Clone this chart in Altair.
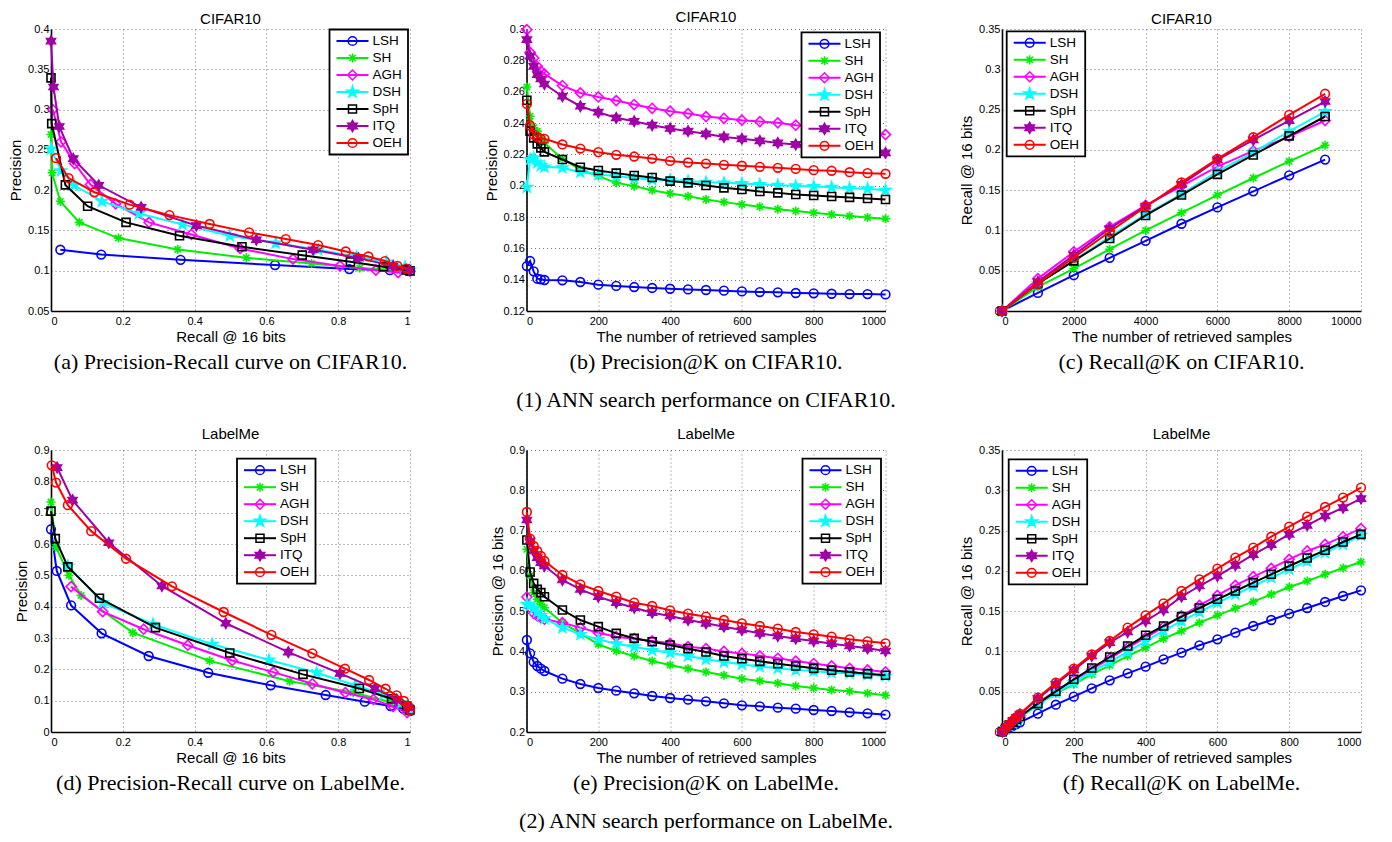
import altair as alt
import pandas as pd

METHODS = ["LSH", "SH", "AGH", "DSH", "SpH", "ITQ", "OEH"]
COLORS = ["#0000FF", "#00EE00", "#FF00FF", "#00FFFF", "#000000", "#A000A8", "#FF0000"]

ASTERISK = "M-1,0H1M0,-1V1M-0.7071,-0.7071L0.7071,0.7071M-0.7071,0.7071L0.7071,-0.7071"
PENTAGRAM = ("M0,-1L0.2245,-0.309L0.9511,-0.309L0.3633,0.118L0.5878,0.809L0,0.382"
             "L-0.5878,0.809L-0.3633,0.118L-0.9511,-0.309L-0.2245,-0.309Z")
HEXAGRAM = ("M0,-1L0.2887,-0.5L0.866,-0.5L0.5774,0L0.866,0.5L0.2887,0.5L0,1"
            "L-0.2887,0.5L-0.866,0.5L-0.5774,0L-0.866,-0.5L-0.2887,-0.5Z")
SHAPES = ["circle", ASTERISK, "diamond", PENTAGRAM, "square", HEXAGRAM, "circle"]
SIZES = [76, 81, 100, 144, 64, 121, 76]
FILLED = [False, False, False, True, False, True, False]

# ---------------- (a) CIFAR10 precision-recall ----------------
A_RECALL = {
    "LSH": [0.026, 0.14, 0.361, 0.624, 0.831, 0.944, 0.995],
    "SH": [0.0, 0.003, 0.026, 0.079, 0.188, 0.353, 0.544, 0.726, 0.86, 0.972, 0.998],
    "AGH": [0.005, 0.028, 0.066, 0.11, 0.18, 0.273, 0.391, 0.527, 0.674, 0.805, 0.905, 0.967, 1.0],
    "DSH": [0.0, 0.028, 0.065, 0.142, 0.245, 0.366, 0.498, 0.626, 0.744, 0.851, 0.935, 0.986, 1.0],
    "SpH": [0.0, 0.002, 0.04, 0.102, 0.209, 0.358, 0.532, 0.70, 0.834, 0.926, 0.99, 1.0],
    "ITQ": [0.0, 0.007, 0.023, 0.062, 0.133, 0.251, 0.405, 0.572, 0.730, 0.856, 0.953, 0.998],
    "OEH": [0.014, 0.049, 0.121, 0.219, 0.33, 0.442, 0.552, 0.654, 0.744, 0.821, 0.884, 0.93, 0.965, 0.99],
}
A_PREC = {
    "LSH": [0.126, 0.120, 0.1135, 0.107, 0.102, 0.1007, 0.0998],
    "SH": [0.269, 0.2215, 0.186, 0.160, 0.1405, 0.1264, 0.116, 0.109, 0.1035, 0.1007, 0.100],
    "AGH": [0.30, 0.26, 0.233, 0.207, 0.183, 0.160, 0.145, 0.1276, 0.1144, 0.106, 0.1007, 0.0977, 0.0994],
    "DSH": [0.251, 0.224, 0.206, 0.186, 0.171, 0.1575, 0.1434, 0.1343, 0.126, 0.1173, 0.111, 0.105, 0.1007],
    "SpH": [0.3394, 0.2825, 0.2065, 0.180, 0.160, 0.1434, 0.1297, 0.1193, 0.111, 0.105, 0.101, 0.0998],
    "ITQ": [0.385, 0.328, 0.279, 0.239, 0.206, 0.1787, 0.156, 0.1384, 0.126, 0.1156, 0.106, 0.1007],
    "OEH": [0.2397, 0.215, 0.1974, 0.182, 0.169, 0.158, 0.1476, 0.1393, 0.1318, 0.1239, 0.1177, 0.112, 0.106, 0.1027],
}

# ---------------- (b) CIFAR10 precision@K ----------------
K_PK = [1, 10, 20, 30, 40, 50, 100, 150, 200, 250, 300, 350, 400, 450, 500,
        550, 600, 650, 700, 750, 800, 850, 900, 950, 1000]
B_PREC = {
    "LSH": [0.1487, 0.1519, 0.1453, 0.1406, 0.1402, 0.1398, 0.1396, 0.1385, 0.1368, 0.136, 0.1353, 0.1347, 0.1342,
            0.1338, 0.1334, 0.133, 0.1325, 0.1321, 0.1319, 0.1315, 0.1313, 0.131, 0.1308, 0.1308, 0.1306],
    "SH": [0.263, 0.2443, 0.2369, 0.2348, 0.231, 0.2273, 0.2171, 0.2103, 0.2061, 0.2018, 0.1997, 0.1971, 0.195,
           0.1933, 0.1912, 0.1895, 0.188, 0.1865, 0.185, 0.1838, 0.1827, 0.1816, 0.1806, 0.1797, 0.1789],
    "AGH": [0.2996, 0.2851, 0.2815, 0.2762, 0.273, 0.2713, 0.2639, 0.2592, 0.2566, 0.2543, 0.2518, 0.2494, 0.2475,
            0.246, 0.2441, 0.243, 0.2418, 0.2409, 0.2401, 0.2386, 0.2375, 0.2365, 0.2355, 0.2345, 0.2326],
    "DSH": [0.199, 0.2167, 0.2178, 0.2146, 0.2129, 0.212, 0.2114, 0.2086, 0.2071, 0.2061, 0.2048, 0.2039, 0.2035,
            0.2029, 0.2022, 0.2018, 0.2014, 0.2008, 0.2003, 0.1999, 0.1995, 0.199, 0.1984, 0.198, 0.1971],
    "SpH": [0.2545, 0.2348, 0.2305, 0.2267, 0.2241, 0.2216, 0.2167, 0.2118, 0.2097, 0.208, 0.2065, 0.2052, 0.2029,
            0.2018, 0.2001, 0.1986, 0.1976, 0.1963, 0.1954, 0.1944, 0.1937, 0.1931, 0.1925, 0.1918, 0.1912],
    "ITQ": [0.2932, 0.2826, 0.2762, 0.2709, 0.2681, 0.2649, 0.2571, 0.2507, 0.2469, 0.2433, 0.2411, 0.2386, 0.2365,
            0.2348, 0.2331, 0.2311, 0.2299, 0.2286, 0.2273, 0.2263, 0.2252, 0.2245, 0.2237, 0.223, 0.2209],
    "OEH": [0.2522, 0.2384, 0.2326, 0.2311, 0.2299, 0.2299, 0.2263, 0.2237, 0.2214, 0.2197, 0.2186, 0.2173, 0.2158,
            0.2148, 0.2141, 0.2133, 0.2127, 0.212, 0.2114, 0.2107, 0.2099, 0.2095, 0.2086, 0.208, 0.2076],
}

# ---------------- (c) CIFAR10 recall@K ----------------
K_RC = [0, 1000, 2000, 3000, 4000, 5000, 6000, 7000, 8000, 9000]
C_REC = {
    "LSH": [0, 0.0224, 0.0444, 0.066, 0.0871, 0.1083, 0.1286, 0.1485, 0.1684, 0.1879],
    "SH": [0, 0.0299, 0.0527, 0.0767, 0.1, 0.122, 0.1439, 0.1651, 0.1858, 0.2057],
    "AGH": [0, 0.0402, 0.0734, 0.1045, 0.1311, 0.1551, 0.1792, 0.1987, 0.2165, 0.2364],
    "DSH": [0, 0.034, 0.063, 0.092, 0.1199, 0.1452, 0.173, 0.1966, 0.2231, 0.2476],
    "SpH": [0, 0.034, 0.0622, 0.09, 0.1186, 0.1439, 0.1696, 0.1937, 0.2173, 0.2414],
    "ITQ": [0, 0.0361, 0.0693, 0.1024, 0.1302, 0.1572, 0.1875, 0.2124, 0.2364, 0.26],
    "OEH": [0, 0.034, 0.0664, 0.0983, 0.1294, 0.1597, 0.1887, 0.2157, 0.2435, 0.2696],
}

# ---------------- (d) LabelMe precision-recall ----------------
D_RECALL = {
    "LSH": [0.0, 0.016, 0.056, 0.141, 0.272, 0.438, 0.612, 0.765, 0.874, 0.946, 0.981, 1.0],
    "SH": [0.0, 0.014, 0.05, 0.084, 0.228, 0.442, 0.665, 0.842, 0.944, 0.995],
    "AGH": [0.056, 0.144, 0.258, 0.381, 0.505, 0.619, 0.728, 0.82, 0.898, 0.953, 0.992],
    "DSH": [0.047, 0.144, 0.284, 0.449, 0.607, 0.74, 0.847, 0.926, 0.977, 1.0],
    "SpH": [0.0, 0.012, 0.047, 0.135, 0.291, 0.498, 0.702, 0.859, 0.949, 0.991, 1.0],
    "ITQ": [0.017, 0.06, 0.161, 0.309, 0.487, 0.661, 0.805, 0.902, 0.963, 0.995],
    "OEH": [0.002, 0.014, 0.047, 0.112, 0.209, 0.337, 0.481, 0.614, 0.728, 0.819, 0.886, 0.932, 0.963, 0.983,
            0.995, 1.0],
}
D_PREC = {
    "LSH": [0.647, 0.514, 0.404, 0.315, 0.2426, 0.189, 0.149, 0.118, 0.0968, 0.083, 0.0745, 0.067],
    "SH": [0.734, 0.59, 0.50, 0.436, 0.317, 0.227, 0.162, 0.126, 0.096, 0.072],
    "AGH": [0.464, 0.384, 0.328, 0.277, 0.228, 0.191, 0.154, 0.1255, 0.104, 0.081, 0.062],
    "DSH": [0.53, 0.413, 0.344, 0.28, 0.23, 0.189, 0.149, 0.12, 0.094, 0.07],
    "SpH": [0.705, 0.617, 0.527, 0.427, 0.333, 0.252, 0.184, 0.139, 0.106, 0.083, 0.07],
    "ITQ": [0.844, 0.74, 0.604, 0.466, 0.347, 0.255, 0.187, 0.139, 0.104, 0.078],
    "OEH": [0.851, 0.796, 0.724, 0.641, 0.553, 0.465, 0.383, 0.31, 0.251, 0.202, 0.166, 0.138, 0.117, 0.099,
            0.083, 0.07],
}

# ---------------- (e) LabelMe precision@K ----------------
E_PREC = {
    "LSH": [0.4284, 0.3953, 0.3738, 0.3638, 0.3572, 0.3514, 0.3324, 0.3192, 0.3092, 0.3026, 0.296, 0.2894, 0.2844,
            0.2803, 0.2761, 0.2712, 0.2662, 0.2637, 0.2604, 0.2579, 0.2546, 0.2521, 0.2488, 0.2463, 0.243],
    "SH": [0.6534, 0.5872, 0.5459, 0.5293, 0.5169, 0.5086, 0.4714, 0.4449, 0.4176, 0.4011, 0.3887, 0.3762, 0.3663,
           0.3572, 0.349, 0.3407, 0.3324, 0.3266, 0.3208, 0.3142, 0.3092, 0.3043, 0.301, 0.296, 0.291],
    "AGH": [0.5351, 0.5086, 0.4946, 0.488, 0.4838, 0.48, 0.4714, 0.459, 0.4466, 0.4367, 0.4317, 0.4259, 0.4201,
            0.4118, 0.407, 0.400, 0.395, 0.389, 0.383, 0.376, 0.370, 0.364, 0.358, 0.354, 0.349],
    "DSH": [0.5169, 0.5144, 0.5062, 0.4979, 0.4896, 0.4813, 0.459, 0.4424, 0.43, 0.4193, 0.4118, 0.4027, 0.3969,
            0.3887, 0.3804, 0.3738, 0.368, 0.3622, 0.358, 0.3539, 0.3514, 0.3473, 0.3456, 0.3423, 0.339],
    "SpH": [0.6766, 0.5972, 0.569, 0.5541, 0.5459, 0.5359, 0.5028, 0.478, 0.4615, 0.4449, 0.4325, 0.4242, 0.416,
            0.4069, 0.3986, 0.3887, 0.382, 0.3754, 0.3696, 0.3638, 0.358, 0.3531, 0.349, 0.3448, 0.3407],
    "ITQ": [0.7262, 0.6741, 0.6493, 0.6327, 0.6203, 0.6121, 0.5773, 0.5541, 0.5359, 0.521, 0.5086, 0.4962, 0.488,
            0.478, 0.4697, 0.4615, 0.4532, 0.4449, 0.4383, 0.4317, 0.4259, 0.4193, 0.4135, 0.4077, 0.4011],
    "OEH": [0.7461, 0.6799, 0.6617, 0.6493, 0.6369, 0.6245, 0.5897, 0.5666, 0.55, 0.5359, 0.521, 0.5128, 0.502,
            0.4937, 0.4863, 0.478, 0.4697, 0.4631, 0.4565, 0.4482, 0.4424, 0.4367, 0.4301, 0.4251, 0.4201],
}

# ---------------- (f) LabelMe recall@K ----------------
F_REC = {
    "LSH": [0.0003, 0.0027, 0.0051, 0.0075, 0.0098, 0.012, 0.0228, 0.0339, 0.0439, 0.0542, 0.0641, 0.0728, 0.0811,
            0.0902, 0.0985, 0.1076, 0.115, 0.1233, 0.1316, 0.139, 0.1469, 0.1539, 0.1614, 0.1688, 0.1758],
    "SH": [0.0004, 0.0042, 0.0078, 0.0113, 0.0147, 0.018, 0.0343, 0.048, 0.0592, 0.0716, 0.0827, 0.0943, 0.1047,
           0.1158, 0.1254, 0.1357, 0.1448, 0.1535, 0.1618, 0.1709, 0.18, 0.1874, 0.1957, 0.2036, 0.211],
    "AGH": [0.0004, 0.0038, 0.0074, 0.0109, 0.0144, 0.018, 0.0364, 0.0509, 0.0645, 0.0778, 0.091, 0.1047, 0.1171,
            0.1303, 0.144, 0.1572, 0.1696, 0.182, 0.1928, 0.2031, 0.2143, 0.2247, 0.2329, 0.2424, 0.2524],
    "DSH": [0.0004, 0.0039, 0.0076, 0.0112, 0.0146, 0.018, 0.0343, 0.0488, 0.0612, 0.0745, 0.0869, 0.0993, 0.1129,
            0.1254, 0.1378, 0.1489, 0.1605, 0.1709, 0.1812, 0.1916, 0.2019, 0.2122, 0.2226, 0.2329, 0.2441],
    "SpH": [0.0005, 0.0045, 0.0085, 0.0123, 0.0159, 0.0193, 0.0352, 0.0505, 0.0654, 0.0794, 0.0931, 0.1067, 0.12,
            0.1316, 0.1432, 0.1539, 0.1647, 0.175, 0.1854, 0.1957, 0.206, 0.216, 0.2255, 0.2358, 0.2453],
    "ITQ": [0.0005, 0.0049, 0.0094, 0.0137, 0.0179, 0.0221, 0.0414, 0.0592, 0.077, 0.0943, 0.1109, 0.1241, 0.1378,
            0.1514, 0.168, 0.1812, 0.1936, 0.2069, 0.2201, 0.2325, 0.2453, 0.2565, 0.2681, 0.2784, 0.2896],
    "OEH": [0.0005, 0.0049, 0.0095, 0.0141, 0.0184, 0.0225, 0.0426, 0.0612, 0.0786, 0.0964, 0.113, 0.1295, 0.1448,
            0.1597, 0.175, 0.1895, 0.2027, 0.2164, 0.2288, 0.2424, 0.2549, 0.2673, 0.2793, 0.2909, 0.3033],
}

W, H = 359, 282
SANS = "Liberation Sans"
SERIF = "Liberation Serif"


def long_df(xs, ys):
    rows = []
    for m in METHODS:
        xv = xs[m] if isinstance(xs, dict) else xs
        for xx, yy in zip(xv, ys[m]):
            rows.append({"method": m, "x": xx, "y": yy})
    return pd.DataFrame(rows)


def panel(df, title, title_offset, xtitle, ytitle, xdom, ydom, xticks, yticks, xfmt, box, caption,
          group_caption=None):
    x = alt.X("x:Q", scale=alt.Scale(domain=xdom, nice=False, zero=False),
              axis=alt.Axis(values=xticks, format=xfmt, title=xtitle))
    y = alt.Y("y:Q", scale=alt.Scale(domain=ydom, nice=False, zero=False),
              axis=alt.Axis(values=yticks, format="~g", title=ytitle))
    base = alt.Chart(df)
    layers = []
    for m, c, s, sz, f in zip(METHODS, COLORS, SHAPES, SIZES, FILLED):
        sub = base.transform_filter(alt.datum.method == m)
        layers.append(sub.mark_line(color=c, strokeWidth=2).encode(x=x, y=y))
        if f:
            pm = sub.mark_point(shape=s, size=sz, filled=True, color=c, stroke=c, strokeWidth=1.2, opacity=1)
        else:
            pm = sub.mark_point(shape=s, size=sz, filled=False, color=c, strokeWidth=1.6, opacity=1)
        layers.append(pm.encode(x=x, y=y))

    # legend box (MATLAB style, inside plot)
    bx, by = box
    one = pd.DataFrame({"k": [0]})
    layers.append(alt.Chart(one).mark_rect(fill="white", stroke="black", strokeWidth=1.8).encode(
        x=alt.value(bx), x2=alt.value(bx + 78.5), y=alt.value(by), y2=alt.value(by + 125)))
    leg = pd.DataFrame({
        "method": METHODS,
        "ly": [by + 11.5 + 17 * i for i in range(len(METHODS))],
        "color": COLORS,
        "shape": SHAPES,
        "size": SIZES,
        "fill": [c if f else "transparent" for c, f in zip(COLORS, FILLED)],
    })
    lg = alt.Chart(leg)
    layers.append(lg.mark_rule(strokeWidth=2).encode(
        x=alt.value(bx + 7), x2=alt.value(bx + 39), y=alt.Y("ly:Q", scale=None, axis=None),
        stroke=alt.Stroke("color:N", scale=None)))
    layers.append(lg.mark_point(opacity=1, strokeWidth=1.5, filled=False).encode(
        x=alt.value(bx + 23), y=alt.Y("ly:Q", scale=None, axis=None),
        shape=alt.Shape("shape:N", scale=None), stroke=alt.Stroke("color:N", scale=None),
        fill=alt.Fill("fill:N", scale=None), size=alt.Size("size:Q", scale=None)))
    layers.append(lg.mark_text(align="left", baseline="middle", font=SANS, fontSize=13.5, color="black").encode(
        x=alt.value(bx + 43), y=alt.Y("ly:Q", scale=None, axis=None), text="method:N"))

    layers.append(alt.Chart(one).mark_text(font=SERIF, fontSize=22, align="center", baseline="middle",
                                           color="black").encode(
        x=alt.value(W / 2), y=alt.value(H + 51), text=alt.value(caption)))
    if group_caption:
        layers.append(alt.Chart(one).mark_text(font=SERIF, fontSize=22, align="center", baseline="middle",
                                               color="black").encode(
            x=alt.value(W / 2), y=alt.value(H + 89), text=alt.value(group_caption)))

    return alt.layer(*layers).properties(
        width=W, height=H,
        title=alt.TitleParams(title, font=SANS, fontSize=15, fontWeight="normal", color="black",
                              offset=title_offset))


XT1 = [0, 0.2, 0.4, 0.6, 0.8, 1]
XTK = [0, 200, 400, 600, 800, 1000]
NRS = "The number of retrieved samples"
T1, T2 = -4, 2

pa = panel(long_df(A_RECALL, A_PREC), "CIFAR10", T1, "Recall @ 16 bits", "Precision", [0, 1], [0.05, 0.4], XT1,
           [0.05, 0.1, 0.15, 0.2, 0.25, 0.3, 0.35, 0.4], "~g", (278.5, 0.5),
           "(a) Precision-Recall curve on CIFAR10.")
pb = panel(long_df(K_PK, B_PREC), "CIFAR10", T1, NRS, "Precision", [0, 1000], [0.12, 0.3], XTK,
           [0.12, 0.14, 0.16, 0.18, 0.2, 0.22, 0.24, 0.26, 0.28, 0.3], "d", (275, 3.3),
           "(b) Precision@K on CIFAR10.", "(1) ANN search performance on CIFAR10.")
pc = panel(long_df(K_RC, C_REC), "CIFAR10", T1, NRS, "Recall @ 16 bits", [0, 10000], [0, 0.35],
           [0, 2000, 4000, 6000, 8000, 10000], [0, 0.05, 0.1, 0.15, 0.2, 0.25, 0.3, 0.35], "d", (4.7, 2.3),
           "(c) Recall@K on CIFAR10.")
pd_ = panel(long_df(D_RECALL, D_PREC), "LabelMe", T2, "Recall @ 16 bits", "Precision", [0, 1], [0, 0.9], XT1,
            [0, 0.1, 0.2, 0.3, 0.4, 0.5, 0.6, 0.7, 0.8, 0.9], "~g", (186, 8.7),
            "(d) Precision-Recall curve on LabelMe.")
pe = panel(long_df(K_PK, E_PREC), "LabelMe", T2, NRS, "Precision @ 16 bits", [0, 1000], [0.2, 0.9], XTK,
           [0.2, 0.3, 0.4, 0.5, 0.6, 0.7, 0.8, 0.9], "d", (276, 8.7),
           "(e) Precision@K on LabelMe.", "(2) ANN search performance on LabelMe.")
pf = panel(long_df(K_PK, F_REC), "LabelMe", T2, NRS, "Recall @ 16 bits", [0, 1000], [0, 0.35], XTK,
           [0, 0.05, 0.1, 0.15, 0.2, 0.25, 0.3, 0.35], "d", (6.7, 9.3), "(f) Recall@K on LabelMe.")

chart = alt.concat(pa, pb, pc, pd_, pe, pf, columns=3, spacing={"row": 139, "column": 116.5},
                   bounds="flush").properties(
    padding={"left": 0, "top": 2, "right": 0, "bottom": 0}
).configure_view(stroke=None).configure_axis(
    labelFont=SANS, labelFontSize=11, labelColor="black", labelPadding=2,
    titleFont=SANS, titleFontSize=15, titleFontWeight="normal", titleColor="black",
    domainColor="black", domainWidth=1.6, ticks=False, tickSize=0,
    grid=True, gridColor="#777777", gridDash=[1, 3], gridWidth=1,
).configure_axisY(titlePadding=4).configure_axisX(titlePadding=3, labelPadding=4)

chart.save("out.html", embed_options={"renderer": "svg", "actions": False})
